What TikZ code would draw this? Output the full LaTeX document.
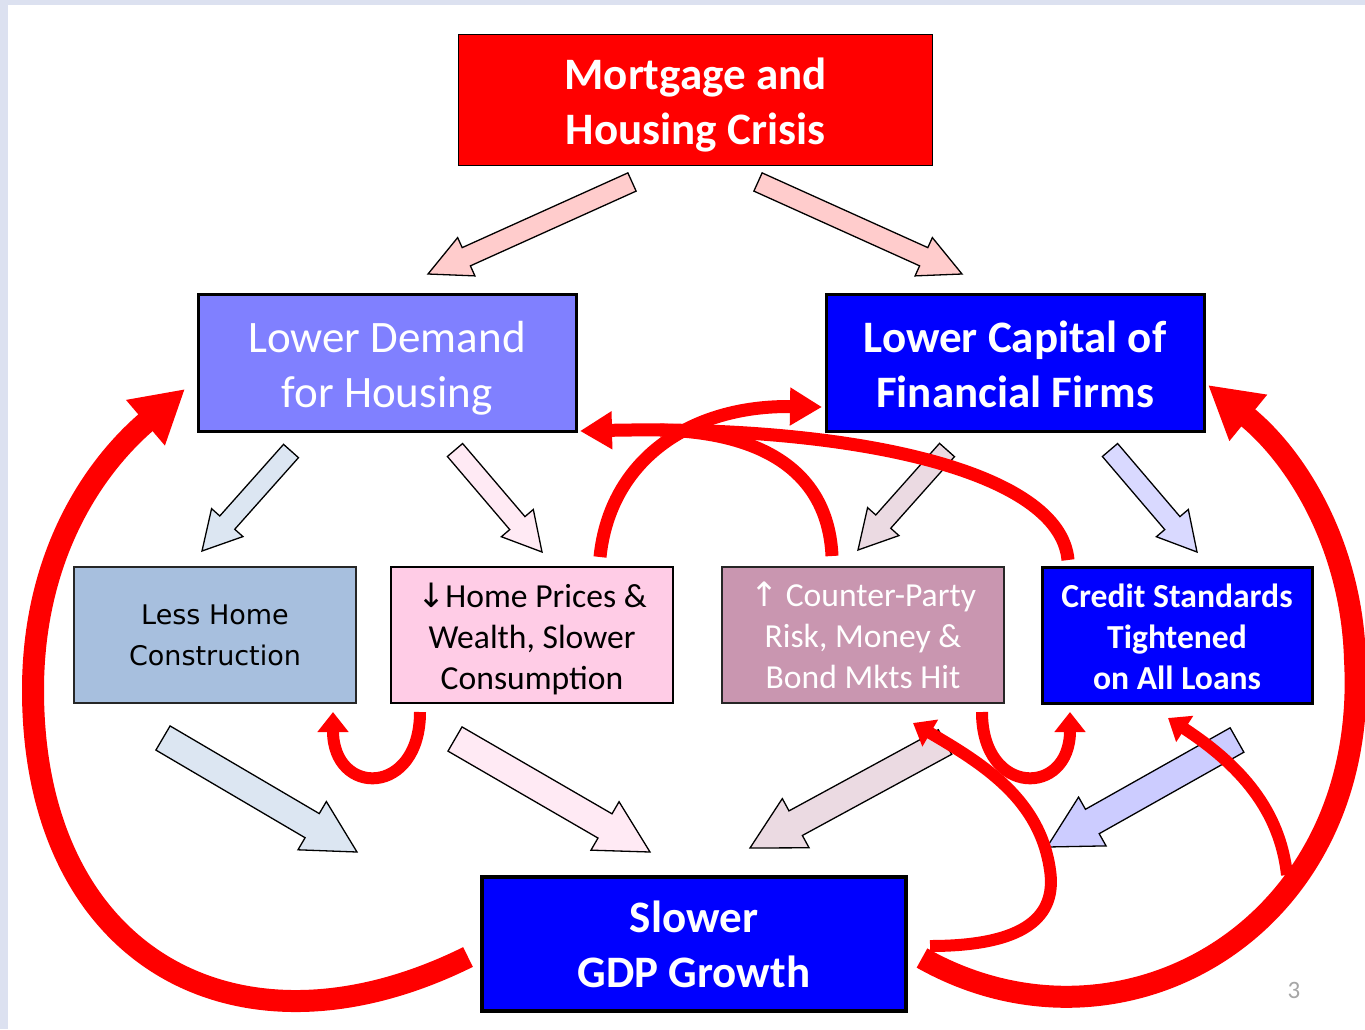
\documentclass[tikz,border=0pt]{standalone}
\usepackage{fontspec}
\setmainfont{Carlito}
\newfontfamily\lucida{DejaVu Sans}
\newfontfamily\arrowfont{DejaVu Sans}
\usepackage{xcolor}
\usepackage{tikz}
\usetikzlibrary{calc}
\usetikzlibrary{arrows.meta}

\definecolor{slideframe}{RGB}{220,225,240}
\definecolor{demandblue}{RGB}{128,128,255}
\definecolor{firmblue}{RGB}{0,0,255}
\definecolor{buildblue}{RGB}{167,191,222}
\definecolor{pricepink}{RGB}{255,204,230}
\definecolor{riskmauve}{RGB}{201,150,176}
\definecolor{pinkarrow}{RGB}{255,204,204}
\definecolor{buildarrow}{RGB}{220,230,242}
\definecolor{pricearrow}{RGB}{255,234,244}
\definecolor{riskarrow}{RGB}{235,218,226}
\definecolor{creditarrow}{RGB}{204,204,255}
\definecolor{creditarrowtop}{RGB}{217,217,255}
\definecolor{pagegray}{RGB}{166,166,166}

\tikzset{
  box/.style={draw=black, line width=3pt, align=center, inner sep=0pt, text=white},
  bigtext/.style={font=\fontsize{45}{55}\selectfont},
  bigbold/.style={font=\fontsize{45}{55}\selectfont\bfseries},
  smalltext/.style={font=\fontsize{33.6}{41}\selectfont},
  smallbold/.style={font=\fontsize{33.6}{41}\selectfont\bfseries},
  redloop/.style={draw=red, line width=22pt, -{Triangle[length=52pt,width=56pt]}},
  redlink/.style={draw=red, line width=13pt, -{Triangle[length=32pt,width=36pt]}},
  redturn/.style={draw=red, line width=12pt, -{Triangle[length=20pt,width=30pt]}},
}

% taller first line, pushes the text block down a little
\newcommand{\linelift}[1]{\rule{0pt}{#1}}

% block arrow: fill, tail, tip, shaft half width, head half width, head length
\newcommand{\fatarrow}[6]{%
  \filldraw[fill=#1, draw=black, line width=1.3pt, line join=miter]
    ($(#2)!#4!90:(#3)$) -- ($(#3)!#6!(#2)!#4!-90:(#2)$) -- ($(#3)!#6!(#2)!#5!-90:(#2)$) -- (#3)
    -- ($(#3)!#6!(#2)!#5!90:(#2)$) -- ($(#3)!#6!(#2)!#4!90:(#2)$) -- ($(#2)!#4!-90:(#3)$) -- cycle ;}

\begin{document}
\begin{tikzpicture}[x=1pt,y=1pt,yscale=-1]
\useasboundingbox (0,0) rectangle (1365,1029);

%Slide frame
\fill[slideframe] (0,0) rectangle (1365,1029);
\fill[white] (8,5) rectangle (1365,1029);

%Block arrow ends
\coordinate (mtailL) at (632,182);   \coordinate (mtipL) at (428,274);
\coordinate (mtailR) at (758,182);   \coordinate (mtipR) at (962,274);
\coordinate (dtailL) at (291,451);   \coordinate (dtipL) at (202,551);
\coordinate (dtailR) at (455,450);   \coordinate (dtipR) at (542,552);
\coordinate (ctailL) at (947,450);   \coordinate (ctipL) at (858,550);
\coordinate (ctailR) at (1110,450);  \coordinate (ctipR) at (1197,552);
\coordinate (btail) at (163,738);    \coordinate (btip) at (357,852);
\coordinate (ptail) at (455,739);    \coordinate (ptip) at (650,852);
\coordinate (rtail) at (945,742);    \coordinate (rtip) at (750,848);
\coordinate (stail) at (1237,740);   \coordinate (stip) at (1047,847);

%Shape: Block arrows
\fatarrow{pinkarrow}{mtailL}{mtipL}{10pt}{21pt}{42pt}
\fatarrow{pinkarrow}{mtailR}{mtipR}{10pt}{21pt}{42pt}
\fatarrow{buildarrow}{dtailL}{dtipL}{10pt}{21pt}{38pt}
\fatarrow{pricearrow}{dtailR}{dtipR}{10pt}{21pt}{38pt}
\fatarrow{riskarrow}{ctailL}{ctipL}{10pt}{21pt}{38pt}
\fatarrow{creditarrowtop}{ctailR}{ctipR}{10pt}{21pt}{38pt}
\fatarrow{buildarrow}{btail}{btip}{14pt}{28pt}{52pt}
\fatarrow{pricearrow}{ptail}{ptip}{14pt}{28pt}{52pt}
\fatarrow{riskarrow}{rtail}{rtip}{14pt}{28pt}{52pt}
\fatarrow{creditarrow}{stail}{stip}{14pt}{28pt}{52pt}

% Text Node
\node[box, fill=red, line width=1.5pt, minimum width=474pt, minimum height=131pt, bigbold] (crisis) at (695.5,100) {\linelift{42pt}Mortgage and\\Housing Crisis};
% Text Node
\node[box, fill=demandblue, minimum width=378pt, minimum height=137pt, bigtext] (demand) at (387,362.5) {\linelift{42pt}Lower Demand\\for Housing};
% Text Node
\node[box, fill=firmblue, minimum width=378pt, minimum height=137pt, bigbold] (capital) at (1015,362.5) {\linelift{35pt}Lower Capital of\\Financial Firms};
% Text Node
\node[box, fill=buildblue, draw=black!85, line width=2.5pt, minimum width=282pt, minimum height=136pt, text=black, font=\lucida\fontsize{27}{41}\selectfont] (build) at (215,635) {Less Home\\Construction};
% Text Node
\node[box, fill=pricepink, line width=2.5pt, minimum width=282pt, minimum height=136pt, text=black, smalltext] (prices) at (532,635) {\linelift{33pt}{\arrowfont ↓}Home Prices \&\\Wealth, Slower\\Consumption};
% Text Node
\node[box, fill=riskmauve, draw=black!85, line width=2.5pt, minimum width=282pt, minimum height=136pt, smalltext] (risk) at (863,635) {{\arrowfont ↑} Counter-Party\\Risk, Money \&\\Bond Mkts Hit};
% Text Node
\node[box, fill=firmblue, minimum width=270pt, minimum height=136pt, smallbold] (credit) at (1177,635) {\linelift{27pt}Credit Standards\\Tightened\\on All Loans};
% Text Node
\node[box, fill=firmblue, line width=4.5pt, minimum width=424pt, minimum height=134pt, bigbold] (gdp) at (694,944) {Slower\\GDP Growth};
% Text Node
\node[text=pagegray, font=\fontsize{25}{30}\selectfont] (pagenum) at (1294,990) {3};

%Feedback arrow ends
\coordinate (gdpL) at (468,957);
\coordinate (gdpR) at (922,958);
\coordinate (gdpR2) at (930,946);
\coordinate (loopR) at (1287,875);
\coordinate (demandL) at (185,389);
\coordinate (capitalR) at (1208,385);
\coordinate (capitalL) at (822,407);
\coordinate (demandR) at (580,431);
\coordinate (riskBR) at (913,723);
\coordinate (creditB) at (1168,718);
\coordinate (pricesB) at (420,712);
\coordinate (buildB) at (333,712);
\coordinate (riskB) at (982,712);
\coordinate (creditBL) at (1070,712);
\coordinate (pricesT) at (600,557);
\coordinate (riskT) at (832,556);
\coordinate (creditT) at (1068,560);
\coordinate (merge) at (660,430);

%Curved feedback arrows
\draw[redloop] (gdpL) .. controls (240,1070) and (33,960) .. (33,690) .. controls (33,560) and (90,470) .. (demandL);
\draw[redloop] (gdpR) .. controls (1120,1070) and (1370,930) .. (1355,660) .. controls (1352,550) and (1300,460) .. (capitalR);
\draw[redturn] (gdpR2) .. controls (1035,946) and (1056,910) .. (1050,870) .. controls (1040,800) and (985,765) .. (riskBR);
\draw[redturn] (loopR) .. controls (1280,810) and (1240,765) .. (creditB);
\draw[redturn] (pricesB) .. controls (420,797) and (333,797) .. (buildB);
\draw[redturn] (riskB) .. controls (982,797) and (1070,797) .. (creditBL);
\draw[redlink] (pricesT) .. controls (610,460) and (690,405) .. (capitalL);
\draw[redlink] (creditT) .. controls (1060,470) and (850,425) .. (demandR);
\draw[draw=red, line width=13pt] (riskT) .. controls (828,470) and (760,432) .. (merge);

\end{tikzpicture}
\end{document}
